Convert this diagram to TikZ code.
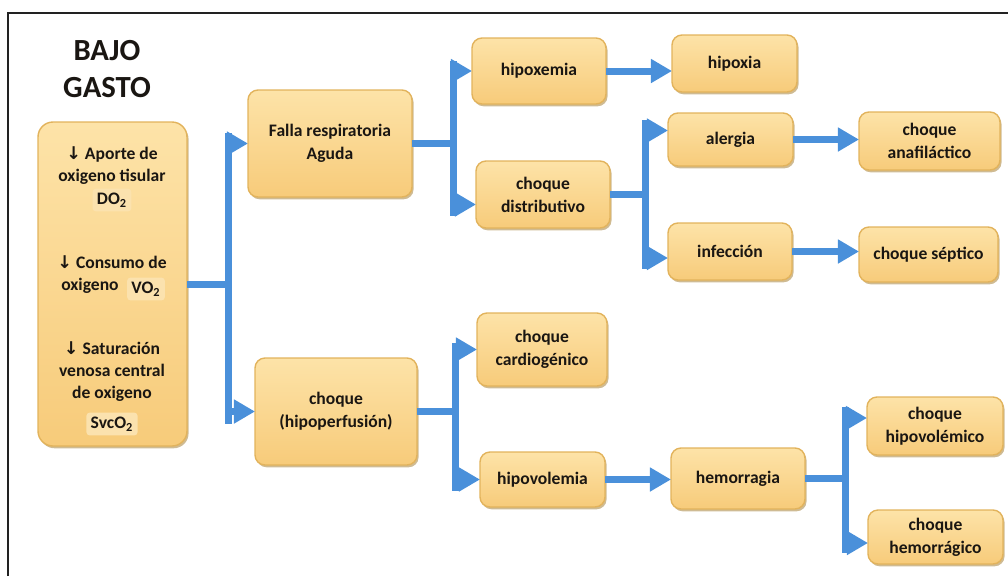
\documentclass[tikz,border=0pt]{standalone}
\usepackage{fontspec}
\setmainfont{Carlito}
\newfontfamily\symfont{DejaVu Sans}
\usetikzlibrary{arrows.meta,shadows}
\definecolor{conncol}{HTML}{4A90DA}
\definecolor{boxtop}{HTML}{FDE3A8}
\definecolor{boxbot}{HTML}{F7CB7A}
\definecolor{boxedge}{HTML}{E2B35C}
\definecolor{boxshadow}{HTML}{A8833A}
\definecolor{patch}{HTML}{FBE2AE}
\definecolor{ink}{HTML}{1A1612}
\definecolor{framecol}{HTML}{222222}
\begin{document}
\begin{tikzpicture}[x=0.02cm,y=-0.02cm,
  box/.style={rectangle, rounded corners=0.2cm, top color=boxtop, bottom color=boxbot,
    draw=boxedge, line width=0.8pt,
    drop shadow={shadow xshift=0.9pt, shadow yshift=-1.3pt, fill=boxshadow, opacity=0.55},
    align=center, font=\bfseries\fontsize{10}{13}\selectfont, text=ink,
    inner sep=2pt, outer sep=0pt},
  sz/.style 2 args={minimum width=#1*0.02cm, minimum height=#2*0.02cm},
  lt/.style={align=center, font=\bfseries\fontsize{10}{12.5}\selectfont, text=ink, inner sep=0pt},
  patchs/.style={lt, fill=patch, rounded corners=2pt, inner sep=2.5pt},
  titlest/.style={align=center, font=\bfseries\fontsize{17.5}{21.6}\selectfont, text=ink},
  conn/.style={draw=conncol, line width=0.14cm},
  arr/.style={conn, -{Triangle[length=12pt, width=13pt]}}
]
\useasboundingbox (0,0) rectangle (1008,576);
\draw[framecol, line width=0.9pt] (8,576) -- (8,13) -- (1008,13);

% title
\node[titlest] (title) at (107,69) {BAJO\\GASTO};

% left box
\node[box, rounded corners=0.3cm, sz={149}{324}] (left) at (112.5,284) {};
\node[lt] (t1) at (112,166) {{\symfont ↓} Aporte de\\oxigeno tisular};
\node[patchs] (do2) at (112,200) {DO\textsubscript{2}};
\node[lt] (t2) at (112,262) {{\symfont ↓} Consumo de};
\node[lt] (t3) at (90,286) {oxigeno};
\node[patchs] (vo2) at (146,289) {VO\textsubscript{2}};
\node[lt] (t4) at (112,371.5) {{\symfont ↓} Saturación\\venosa central\\de oxigeno};
\node[patchs] (svc) at (112,424) {SvcO\textsubscript{2}};

% boxes
\node[box, sz={164}{107}] (falla) at (330,143.5) {Falla respiratoria\\Aguda};
\node[box, sz={162}{107}] (choque) at (336,411.5) {choque\\(hipoperfusión)};
\node[box, sz={134}{66}] (hipoxemia) at (539,71) {hipoxemia};
\node[box, sz={134}{67}] (dist) at (543,194.5) {choque\\distributivo};
\node[box, sz={125}{57}] (hipoxia) at (734.5,63.5) {hipoxia};
\node[box, sz={125}{53}] (alergia) at (730.5,139.5) {alergia};
\node[box, sz={124}{57}] (infeccion) at (730,251.5) {infección};
\node[box, sz={141}{58}] (anaf) at (929.5,141) {choque\\anafiláctico};
\node[box, sz={139}{55}] (septico) at (928.5,254.5) {choque séptico};
\node[box, sz={130}{73}] (cardio) at (542,349.5) {choque\\cardiogénico};
\node[box, sz={125}{55}] (hipovol) at (542.5,479.5) {hipovolemia};
\node[box, sz={134}{61}] (hemo) at (738,478.5) {hemorragia};
\node[box, sz={136}{58}] (hvolem) at (935,426) {choque\\hipovolémico};
\node[box, sz={135}{54}] (hragico) at (935.5,537) {choque\\hemorrágico};

% split A
\coordinate (jAt) at (228,133);
\coordinate (jAb) at (228,424);
\draw[conn] (left.east) -- (left.east -| jAt);
\draw[conn] (jAt) -- (jAb);
\draw[arr] (jAt |- falla.west) -- (falla.west);
\draw[arr] (jAt |- choque.west) -- (choque.west);

% split B
\coordinate (jBt) at (453,61);
\coordinate (jBb) at (453,216);
\coordinate (distIn) at ([yshift=-0.2cm]dist.west);
\draw[conn] (falla.east) -- (falla.east -| jBt);
\draw[conn] (jBt) -- (jBb);
\draw[arr] (jBt |- hipoxemia.west) -- (hipoxemia.west);
\draw[arr] (jBt |- distIn) -- (distIn);

% split C
\coordinate (jCt) at (645,120);
\coordinate (jCb) at (645,269);
\coordinate (alIn) at ([yshift=0.18cm]alergia.west);
\coordinate (infIn) at ([yshift=-0.13cm]infeccion.west);
\draw[conn] (dist.east) -- (dist.east -| jCt);
\draw[conn] (jCt) -- (jCb);
\draw[arr] (jCt |- alIn) -- (alIn);
\draw[arr] (jCt |- infIn) -- (infIn);

% split D
\coordinate (jDt) at (455,343);
\coordinate (jDb) at (455,491);
\draw[conn] (choque.east) -- (choque.east -| jDt);
\draw[conn] (jDt) -- (jDb);
\draw[arr] (jDt |- cardio.west) -- (cardio.west);
\draw[arr] (jDt |- hipovol.west) -- (hipovol.west);

% split E
\coordinate (jEt) at (845,407);
\coordinate (jEb) at (845,553);
\coordinate (hvIn) at ([yshift=0.16cm]hvolem.west);
\coordinate (hrIn) at ([yshift=-0.12cm]hragico.west);
\draw[conn] (hemo.east) -- (hemo.east -| jEt);
\draw[conn] (jEt) -- (jEb);
\draw[arr] (jEt |- hvIn) -- (hvIn);
\draw[arr] (jEt |- hrIn) -- (hrIn);

% straight arrows
\draw[arr] (hipoxemia.east) -- (hipoxemia.east -| hipoxia.west);
\draw[arr] (alergia.east) -- (alergia.east -| anaf.west);
\draw[arr] (infeccion.east) -- (infeccion.east -| septico.west);
\draw[arr] (hipovol.east) -- (hipovol.east -| hemo.west);
\end{tikzpicture}
\end{document}
